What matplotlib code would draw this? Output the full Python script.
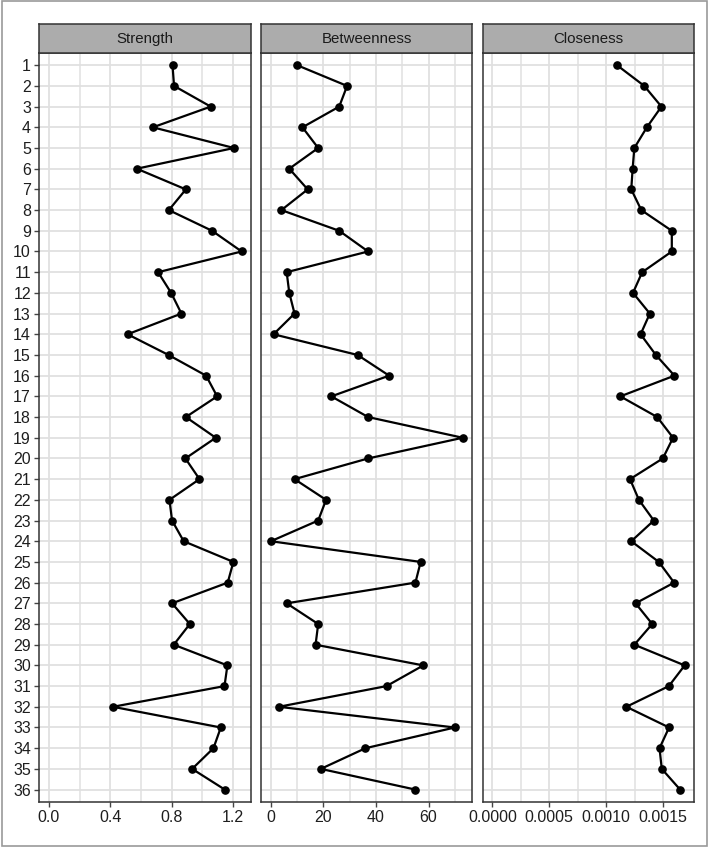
import matplotlib
matplotlib.use("Agg")
import matplotlib.pyplot as plt
from matplotlib.patches import Rectangle
from matplotlib.ticker import FixedLocator, FuncFormatter

plt.rcParams["font.family"] = ["Liberation Sans", "DejaVu Sans"]

nodes = list(range(1, 37))

strength = [0.806, 0.816, 1.055, 0.678, 1.207, 0.573, 0.893, 0.782, 1.064, 1.257,
            0.712, 0.797, 0.864, 0.513, 0.780, 1.025, 1.097, 0.893, 1.088, 0.890,
            0.982, 0.786, 0.803, 0.879, 1.203, 1.166, 0.803, 0.919, 0.814, 1.164,
            1.145, 0.417, 1.121, 1.073, 0.934, 1.147]

betweenness = [10, 29, 26, 12, 18, 7, 14, 4, 26, 37,
               6, 7, 9, 1, 33, 45, 23, 37, 73, 37,
               9, 21, 18, 0, 57, 55, 6, 18, 17, 58,
               44, 3, 70, 36, 19, 55]

closeness = [0.001095, 0.001334, 0.001485, 0.001357, 0.001247, 0.001232, 0.001220,
             0.001308, 0.001576, 0.001576, 0.001316, 0.001235, 0.001383, 0.001302,
             0.001436, 0.001599, 0.001124, 0.001448, 0.001587, 0.001497, 0.001209,
             0.001287, 0.001418, 0.001220, 0.001462, 0.001596, 0.001258, 0.001404,
             0.001247, 0.001689, 0.001550, 0.001177, 0.001552, 0.001468, 0.001488,
             0.001649]

panel_titles = ["Strength", "Betweenness", "Closeness"]
major_ticks = [[0.0, 0.4, 0.8, 1.2], [0, 20, 40, 60], [0.0, 0.0005, 0.0010, 0.0015]]
minor_ticks = [[0.2, 0.6, 1.0], [10, 30, 50, 70], [0.00025, 0.00075, 0.00125]]
tick_fmt = ["{:.1f}", "{:.0f}", "{:.4f}"]
series = [strength, betweenness, closeness]

W, H = 709, 847
fig = plt.figure(figsize=(W / 100, H / 100), dpi=100)
fig.patch.set_facecolor("white")

# thin frame around the whole figure
fig.add_artist(Rectangle((2 / W, 1 / H), (W - 4.5) / W, (H - 2.5) / H,
                         transform=fig.transFigure, fill=False,
                         edgecolor="#9a9a9a", linewidth=1.2))

panel_x = [(39.3, 251.3), (261.3, 472.3), (482.7, 694.3)]
top_px, bottom_px = 52.8, 802.0
strip_top = 24.3

grid_col = "#e0e0e0"
border_col = "#333333"

for i, (x0, x1) in enumerate(panel_x):
    ax = fig.add_axes([x0 / W, 1 - bottom_px / H, (x1 - x0) / W, (bottom_px - top_px) / H])
    vals = series[i]
    lo = min(0, min(vals))
    hi = max(vals)
    pad = (hi - lo) * 0.05
    ax.set_xlim(lo - pad, hi + pad)
    ax.set_ylim(36.6, 0.4)

    ax.xaxis.set_major_locator(FixedLocator(major_ticks[i]))
    ax.xaxis.set_minor_locator(FixedLocator(minor_ticks[i]))
    ax.xaxis.set_major_formatter(FuncFormatter(lambda v, p, f=tick_fmt[i]: f.format(v)))
    ax.set_yticks(nodes)
    if i == 0:
        ax.set_yticklabels([str(n) for n in nodes])
    else:
        ax.set_yticklabels([])
        ax.tick_params(axis="y", length=0)

    ax.grid(True, which="major", color=grid_col, linewidth=1.3)
    ax.grid(True, which="minor", axis="x", color=grid_col, linewidth=1.1)
    ax.set_axisbelow(True)

    ax.tick_params(axis="both", which="major", labelsize=11.5, labelcolor="#1e1e1e",
                   color="#444444", length=3.5, width=1.0, pad=2.5)
    ax.tick_params(axis="x", which="minor", length=0)
    if i != 0:
        ax.tick_params(axis="y", length=0)

    for s in ax.spines.values():
        s.set_color(border_col)
        s.set_linewidth(1.1)

    ax.plot(vals, nodes, color="black", linewidth=1.6, marker="o",
            markersize=5.2, markerfacecolor="black", markeredgecolor="black",
            zorder=3)

    # facet strip
    sax = fig.add_axes([x0 / W, 1 - top_px / H, (x1 - x0) / W, (top_px - strip_top) / H])
    sax.set_facecolor("#acacac")
    sax.set_xticks([])
    sax.set_yticks([])
    for s in sax.spines.values():
        s.set_color(border_col)
        s.set_linewidth(1.1)
    sax.text(0.5, 0.48, panel_titles[i], transform=sax.transAxes, ha="center",
             va="center", fontsize=10.8, color="#1a1a1a")

fig.savefig("out.png", dpi=100)
